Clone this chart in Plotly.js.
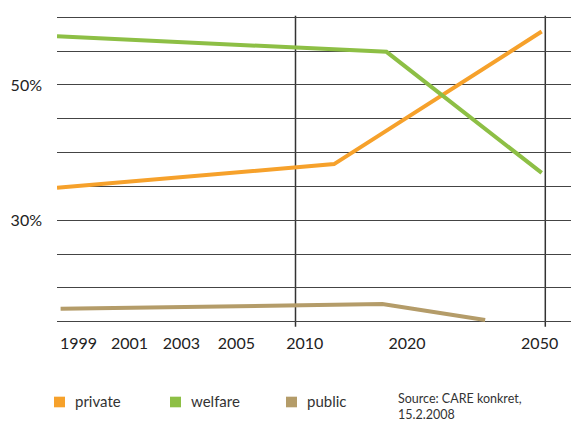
<!DOCTYPE html>
<html>
<head>
<meta charset="utf-8">
<script src="https://cdn.plot.ly/plotly-3.0.1.min.js"></script>
<style>html,body{margin:0;padding:0;background:#fff;}#chart{width:571px;height:423px;}</style>
</head>
<body>
<div id="chart"></div>
<script>
// Tick labels (x positions on the non-linear time axis, 0..100 units)
const yearLabels = ['1999', '2001', '2003', '2005', '2010', '2020', '2050'];
const yearPos = [4.2, 14.1, 24.2, 34.9, 48.2, 68.1, 93.9];
const markerYearPos = [46.4, 95.0]; // vertical reference lines (2010, 2050)

// Series (share in %)
const privateX = [0, 53.9, 94.3];
const privateY = [34.8, 38.3, 57.9];
const welfareX = [0, 64.1, 94.3];
const welfareY = [57.2, 54.9, 37.0];
const publicX = [0.7, 63.3, 83.3];
const publicY = [16.9, 17.6, 15.25];

const yTickVals = [15, 20, 25, 30, 35, 40, 45, 50, 55, 60];
const yTickText = ['', '', '', '30%', '', '', '', '50%', '', ''];

const seriesNames = ['private', 'welfare', 'public'];
const seriesColors = ['#F6A12B', '#8DBF45', '#B49C69'];

const FONT = 'Lato, "Open Sans", sans-serif';

const traces = [
  {x: privateX, y: privateY, name: seriesNames[0]},
  {x: welfareX, y: welfareY, name: seriesNames[1]},
  {x: publicX, y: publicY, name: seriesNames[2]}
].map((t, i) => Object.assign(t, {
  type: 'scatter', mode: 'lines', showlegend: false, hoverinfo: 'skip',
  line: {color: seriesColors[i], width: 4}
}));

const shapes = markerYearPos.map(p => ({
  type: 'line', xref: 'x', yref: 'paper', x0: p, x1: p, y0: -0.012, y1: 1.001,
  line: {color: '#333', width: 1.5}, layer: 'below'
}));

const legendX = [-0.0058, 0.2198, 0.4455];
const annotations = [];
seriesNames.forEach((n, i) => {
  shapes.push({type: 'rect', xref: 'paper', yref: 'paper',
    x0: legendX[i], x1: legendX[i] + 0.0214, y0: -0.2746, y1: -0.240,
    fillcolor: seriesColors[i], line: {width: 0}});
  annotations.push({xref: 'paper', yref: 'paper', x: legendX[i] + 0.0369, y: -0.2557,
    xanchor: 'left', yanchor: 'middle', showarrow: false, text: n,
    font: {family: FONT, size: 15, color: '#333'}});
});
annotations.push({xref: 'paper', yref: 'paper', x: 0.6595, y: -0.215,
  xanchor: 'left', yanchor: 'top', align: 'left', showarrow: false,
  text: 'Source: CARE konkret,<br>15.2.2008',
  font: {family: FONT, size: 12.5, color: '#333'}});

const layout = {
  width: 571, height: 423,
  margin: {l: 57, r: 0, t: 16, b: 100},
  paper_bgcolor: '#fff', plot_bgcolor: '#fff',
  showlegend: false,
  font: {family: FONT, color: '#222'},
  xaxis: {
    range: [0, 100], showgrid: false, zeroline: false, showline: false,
    tickmode: 'array', tickvals: yearPos, ticktext: yearLabels,
    ticks: '', ticklabelstandoff: 9,
    tickfont: {family: FONT, size: 16, color: '#222'}, fixedrange: true
  },
  yaxis: {
    range: [14.8, 60.2], showgrid: true, gridcolor: '#444', gridwidth: 1,
    zeroline: false, showline: false,
    tickmode: 'array', tickvals: yTickVals, ticktext: yTickText,
    ticks: '', ticklabelstandoff: 14,
    tickfont: {family: FONT, size: 16, color: '#222'}, fixedrange: true
  },
  shapes: shapes,
  annotations: annotations
};

Plotly.newPlot('chart', traces, layout, {staticPlot: true, displayModeBar: false});
</script>
</body>
</html>
